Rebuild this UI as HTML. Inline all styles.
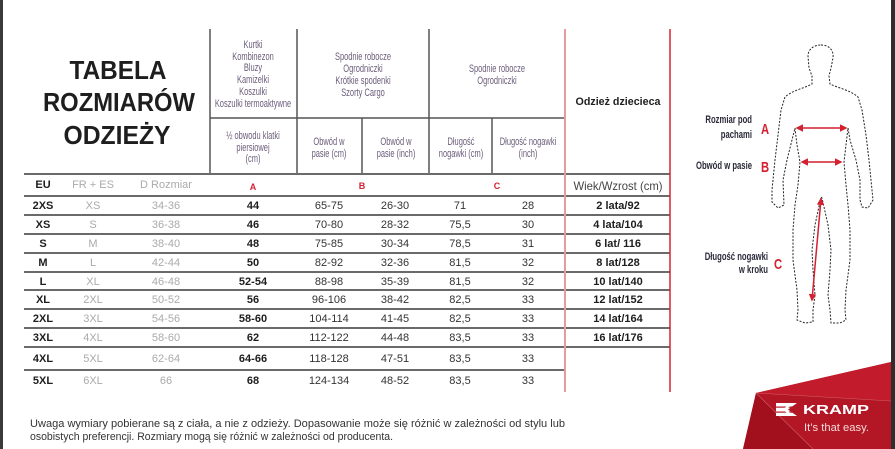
<!DOCTYPE html>
<html><head><meta charset="utf-8"><style>
html,body{margin:0;padding:0;background:#fff;}
svg{display:block;}
text{font-family:"Liberation Sans","Noto Sans CJK SC",sans-serif;}
</style></head><body>
<svg width="895" height="449" viewBox="0 0 895 449" xmlns="http://www.w3.org/2000/svg">
<rect width="895" height="449" fill="#fff"/>
<rect x="0" y="0" width="3" height="449" fill="#3a3a3a"/>
<rect x="891" y="0" width="4" height="449" fill="#2e2e2e"/>

<!-- Title -->
<g font-weight="bold" fill="#1e1e1e" font-size="26" text-anchor="middle">
<text x="118" y="79" textLength="97" lengthAdjust="spacingAndGlyphs">TABELA</text>
<text x="119" y="111" textLength="152" lengthAdjust="spacingAndGlyphs">ROZMIARÓW</text>
<text x="117" y="144" textLength="107" lengthAdjust="spacingAndGlyphs">ODZIEŻY</text>
</g>

<!-- header grid -->
<g stroke="#555" stroke-width="1.5">
<line x1="210" y1="29" x2="210" y2="173"/>
<line x1="297" y1="29" x2="297" y2="173"/>
<line x1="429" y1="29" x2="429" y2="173"/>
<line x1="362" y1="118" x2="362" y2="173"/>
<line x1="492" y1="118" x2="492" y2="173"/>
<line x1="210" y1="118" x2="565" y2="118"/>
</g>

<!-- header category text -->
<g fill="#6b5d7a" font-size="11" text-anchor="middle" dominant-baseline="central">
<g transform="translate(253,0) scale(0.68,1)">
<text x="0" y="44">Kurtki</text>
<text x="0" y="56">Kombinezon</text>
<text x="0" y="67">Bluzy</text>
<text x="0" y="79">Kamizelki</text>
<text x="0" y="91">Koszulki</text>
<text x="0" y="103">Koszulki termoaktywne</text>
</g>
<g transform="translate(363,0) scale(0.68,1)">
<text x="0" y="56">Spodnie robocze</text>
<text x="0" y="68">Ogrodniczki</text>
<text x="0" y="80">Krótkie spodenki</text>
<text x="0" y="92">Szorty Cargo</text>
</g>
<g transform="translate(497,0) scale(0.68,1)">
<text x="0" y="68">Spodnie robocze</text>
<text x="0" y="80">Ogrodniczki</text>
</g>
<g transform="translate(253,0) scale(0.68,1)">
<text x="0" y="135">½ obwodu klatki</text>
<text x="0" y="147">piersiowej</text>
<text x="0" y="158">(cm)</text>
</g>
<g transform="translate(329,0) scale(0.68,1)">
<text x="0" y="141">Obwód w</text>
<text x="0" y="153">pasie (cm)</text>
</g>
<g transform="translate(396,0) scale(0.68,1)">
<text x="0" y="141">Obwód w</text>
<text x="0" y="153">pasie (inch)</text>
</g>
<g transform="translate(461,0) scale(0.68,1)">
<text x="0" y="141">Długość</text>
<text x="0" y="153">nogawki (cm)</text>
</g>
<g transform="translate(528,0) scale(0.68,1)">
<text x="0" y="141">Długość nogawki</text>
<text x="0" y="153">(inch)</text>
</g>
</g>

<!-- kids header -->
<text x="618" y="102" font-size="11" font-weight="bold" fill="#1e1e1e" text-anchor="middle" dominant-baseline="central" textLength="85" lengthAdjust="spacingAndGlyphs">Odzież dziecieca</text>
<text x="618" y="186" font-size="12" fill="#444" text-anchor="middle" dominant-baseline="central" textLength="89" lengthAdjust="spacingAndGlyphs">Wiek/Wzrost (cm)</text>

<!-- row lines -->
<g stroke="#6a6a6a" stroke-width="2">
<line x1="24" y1="174" x2="670" y2="174"/>
<line x1="24" y1="196" x2="670" y2="196"/>
<line x1="24" y1="215" x2="670" y2="215"/>
<line x1="24" y1="234" x2="670" y2="234"/>
<line x1="24" y1="253" x2="670" y2="253"/>
<line x1="24" y1="272" x2="670" y2="272"/>
<line x1="24" y1="290" x2="670" y2="290"/>
<line x1="24" y1="309" x2="670" y2="309"/>
<line x1="24" y1="328" x2="670" y2="328"/>
<line x1="24" y1="347" x2="670" y2="347"/>
<line x1="24" y1="370" x2="565" y2="370"/>
</g>

<!-- vertical red lines -->
<line x1="565" y1="29" x2="565" y2="392" stroke="#e89aa3" stroke-width="2"/>
<line x1="670" y1="29" x2="670" y2="392" stroke="#d8232f" stroke-width="1.5"/>

<!-- column headers row -->
<g font-size="11" dominant-baseline="central" text-anchor="middle">
<text x="43" y="185" font-weight="bold" fill="#1e1e1e">EU</text>
<text x="93" y="185" fill="#aaa">FR + ES</text>
<text x="166" y="185" fill="#aaa">D Rozmiar</text>
<text x="253" y="187" font-weight="bold" fill="#d42030" font-size="9">A</text>
<text x="362" y="186" font-weight="bold" fill="#d42030" font-size="9">B</text>
<text x="497" y="186" font-weight="bold" fill="#d42030" font-size="9">C</text>
</g>

<!-- data rows -->
<g font-size="11" dominant-baseline="central" text-anchor="middle">
<g font-weight="bold" fill="#1e1e1e">
<text x="43" y="206">2XS</text><text x="43" y="225">XS</text><text x="43" y="244">S</text><text x="43" y="263">M</text><text x="43" y="282">L</text><text x="43" y="300">XL</text><text x="43" y="319">2XL</text><text x="43" y="338">3XL</text><text x="43" y="359">4XL</text><text x="43" y="381">5XL</text>
<text x="253" y="206">44</text><text x="253" y="225">46</text><text x="253" y="244">48</text><text x="253" y="263">50</text><text x="253" y="282">52-54</text><text x="253" y="300">56</text><text x="253" y="319">58-60</text><text x="253" y="338">62</text><text x="253" y="359">64-66</text><text x="253" y="381">68</text>
<text x="618" y="206">2 lata/92</text><text x="618" y="225">4 lata/104</text><text x="618" y="244">6 lat/ 116</text><text x="618" y="263">8 lat/128</text><text x="618" y="282">10 lat/140</text><text x="618" y="300">12 lat/152</text><text x="618" y="319">14 lat/164</text><text x="618" y="338">16 lat/176</text>
</g>
<g fill="#aaa">
<text x="93" y="206">XS</text><text x="93" y="225">S</text><text x="93" y="244">M</text><text x="93" y="263">L</text><text x="93" y="282">XL</text><text x="93" y="300">2XL</text><text x="93" y="319">3XL</text><text x="93" y="338">4XL</text><text x="93" y="359">5XL</text><text x="93" y="381">6XL</text>
<text x="166" y="206">34-36</text><text x="166" y="225">36-38</text><text x="166" y="244">38-40</text><text x="166" y="263">42-44</text><text x="166" y="282">46-48</text><text x="166" y="300">50-52</text><text x="166" y="319">54-56</text><text x="166" y="338">58-60</text><text x="166" y="359">62-64</text><text x="166" y="381">66</text>
</g>
<g fill="#333">
<text x="329" y="206">65-75</text><text x="329" y="225">70-80</text><text x="329" y="244">75-85</text><text x="329" y="263">82-92</text><text x="329" y="282">88-98</text><text x="329" y="300">96-106</text><text x="329" y="319">104-114</text><text x="329" y="338">112-122</text><text x="329" y="359">118-128</text><text x="329" y="381">124-134</text>
<text x="395" y="206">26-30</text><text x="395" y="225">28-32</text><text x="395" y="244">30-34</text><text x="395" y="263">32-36</text><text x="395" y="282">35-39</text><text x="395" y="300">38-42</text><text x="395" y="319">41-45</text><text x="395" y="338">44-48</text><text x="395" y="359">47-51</text><text x="395" y="381">48-52</text>
<text x="460" y="206">71</text><text x="460" y="225">75,5</text><text x="460" y="244">78,5</text><text x="460" y="263">81,5</text><text x="460" y="282">81,5</text><text x="460" y="300">82,5</text><text x="460" y="319">82,5</text><text x="460" y="338">83,5</text><text x="460" y="359">83,5</text><text x="460" y="381">83,5</text>
<text x="528" y="206">28</text><text x="528" y="225">30</text><text x="528" y="244">31</text><text x="528" y="263">32</text><text x="528" y="282">32</text><text x="528" y="300">33</text><text x="528" y="319">33</text><text x="528" y="338">33</text><text x="528" y="359">33</text><text x="528" y="381">33</text>
</g>
</g>

<!-- footer text -->
<g font-size="11" fill="#333" dominant-baseline="central">
<text x="30" y="424" textLength="535" lengthAdjust="spacingAndGlyphs">Uwaga wymiary pobierane są z ciała, a nie z odzieży. Dopasowanie może się różnić w zależności od stylu lub</text>
<text x="30" y="437" textLength="363" lengthAdjust="spacingAndGlyphs">osobistych preferencji. Rozmiary mogą się różnić w zależności od producenta.</text>
</g>

<!-- body figure -->
<path d="M821,45 C829,45 834,50 833,58 L831,68 L829,76 L830,84 C838,88 850,90 858,97 L862,110 L866,135 L869,160 L872,190 L873,200 L868,208 L862,207 L860,200 L860,180 L856,160 L850,140 L848,128 L846,145 L844,162 L846,185 L848,205 L850,230 L850,260 L846,290 L845,310 L846,320 L840,323 L831,323 L830,310 L828,295 L830,270 L831,250 L828,225 L822,198 L821,197 L815,225 L812,250 L813,270 L815,295 L813,310 L813,322 L805,323 L797,320 L798,310 L797,290 L793,260 L793,230 L795,205 L798,185 L800,162 L797,145 L795,128 L792,140 L787,160 L783,180 L784,205 L778,208 L772,202 L772,190 L775,160 L778,135 L781,110 L785,97 C793,90 805,88 812,84 L812,76 L809,68 L808,56 C808,50 813,45 821,45 Z" fill="none" stroke="#222" stroke-width="1" stroke-dasharray="2,1.5"/>

<defs>
<marker id="ah" viewBox="0 0 10 10" refX="8" refY="5" markerWidth="5" markerHeight="5" orient="auto-start-reverse">
<path d="M0,0 L10,5 L0,10 Z" fill="#d42030"/>
</marker>
</defs>
<g stroke="#d42030" stroke-width="1.5" fill="none">
<line x1="797" y1="128" x2="846" y2="128" marker-start="url(#ah)" marker-end="url(#ah)"/>
<line x1="802" y1="162" x2="841" y2="162" marker-start="url(#ah)" marker-end="url(#ah)"/>
<line x1="821" y1="199" x2="812" y2="300" marker-start="url(#ah)" marker-end="url(#ah)"/>
</g>

<!-- figure labels -->
<g font-size="11" font-weight="bold" fill="#2a2a3a" text-anchor="end" dominant-baseline="central">
<g transform="translate(752,0) scale(0.7,1)">
<text x="0" y="120">Rozmiar pod</text>
<text x="0" y="135">pachami</text>
<text x="0" y="166">Obwód w pasie</text>
</g>
<g transform="translate(768,0) scale(0.7,1)">
<text x="0" y="257">Długość nogawki</text>
<text x="0" y="270">w kroku</text>
</g>
</g>
<g font-size="15" font-weight="bold" fill="#d42030" text-anchor="middle" dominant-baseline="central">
<g transform="translate(765,0) scale(0.75,1)"><text x="0" y="129">A</text></g>
<g transform="translate(765,0) scale(0.75,1)"><text x="0" y="167">B</text></g>
<g transform="translate(778,0) scale(0.75,1)"><text x="0" y="264">C</text></g>
</g>

<!-- Kramp banner -->
<polygon points="756,393 891,362 891,449 743,449" fill="#b31624"/>
<polygon points="756,393 891,362 891,401" fill="#c21c2c"/>
<polygon points="756,393 813,449 743,449" fill="#a1101c"/>
<line x1="756" y1="393" x2="813" y2="449" stroke="#d2606a" stroke-width="0.6"/>
<line x1="756" y1="393" x2="891" y2="401" stroke="#d2606a" stroke-width="0.5"/>
<!-- K logo -->
<rect x="776" y="403" width="21" height="13" fill="#fff"/>
<rect x="776" y="406.5" width="21" height="1.2" fill="#b31624"/>
<rect x="776" y="411.5" width="21" height="1.2" fill="#b31624"/>
<polygon points="797,403 788,409.5 797,416" fill="#b31624"/>
<polygon points="794,403 786,409.5 794,416 790,416 783,409.5 790,403" fill="#fff"/>
<text x="803" y="409.5" font-size="13" font-weight="bold" fill="#fff" dominant-baseline="central" textLength="66" lengthAdjust="spacingAndGlyphs">KRAMP</text>
<text x="804" y="428" font-size="11" fill="#f4dcdc" dominant-baseline="central" textLength="65" lengthAdjust="spacingAndGlyphs">It’s that easy.</text>
</svg>
</body></html>
